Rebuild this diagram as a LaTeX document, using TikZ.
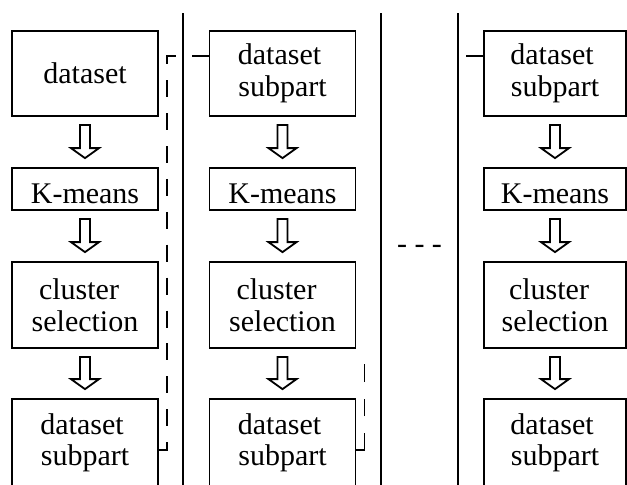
\documentclass[tikz,border=0pt]{standalone}
\usepackage{fontspec}
\newfontfamily\boxfont{Liberation Serif}
\usetikzlibrary{calc}

\tikzset{
  stage/.style={draw, line width=0.9pt, inner sep=0pt, minimum width=73pt, align=center,
    font=\boxfont\fontsize{15}{15.75}\selectfont},
  tallbox/.style={stage, minimum height=42.5pt},
  kbox/.style={stage, minimum height=21pt, text height=14pt, text depth=0pt},
  blockarrow/.style={draw, line width=0.9pt, line join=miter, fill=white},
  divider/.style={line width=0.9pt},
  feedback/.style={line width=0.9pt, dash pattern=on 8.5pt off 7.95pt},
  feedbackend/.style={line width=0.9pt, dash pattern=on 12.5pt off 8.5pt on 8.5pt off 8.5pt on 9pt off 20pt}
}

% hollow block arrow from box #1 down to box #2
\newcommand{\flowarrow}[2]{%
  \draw[blockarrow] ($(#1.south)+(-5,8)$) -- ($(#2.north)+(-5,-19)$) -- ++(-9,0)
    -- ($(#2.north)+(0,-9)$) -- ($(#2.north)+(14,-19)$) -- ++(-9,0)
    -- ($(#1.south)+(5,8)$) -- cycle;}

\begin{document}
\begin{tikzpicture}[x=0.5pt,y=-0.5pt]
\useasboundingbox (0,0) rectangle (627,484);

% first column
\node[tallbox] (d1) at (85,73.5) {dataset};
\node[kbox] (k1) at (85,189) {K-means};
\node[tallbox, minimum height=43pt] (c1) at (85,305) {cluster\kern6pt\\selection};
\node[tallbox, minimum height=44pt] (s1) at (85,443) {dataset\kern3pt\\subpart};

% second column
\node[tallbox] (d2) at (282.5,73.5) {dataset\kern3pt\\subpart};
\node[kbox] (k2) at (282.5,189) {K-means};
\node[tallbox, minimum height=43pt] (c2) at (282.5,305) {cluster\kern6pt\\selection};
\node[tallbox, minimum height=44pt] (s2) at (282.5,443) {dataset\kern3pt\\subpart};

% last column
\node[tallbox, minimum width=71pt] (d3) at (555,73.5) {dataset\kern3pt\\subpart};
\node[kbox, minimum width=71pt] (k3) at (555,189) {K-means};
\node[tallbox, minimum width=71pt, minimum height=43pt] (c3) at (555,305) {cluster\kern6pt\\selection};
\node[tallbox, minimum width=71pt, minimum height=44pt] (s3) at (555,443) {dataset\kern3pt\\subpart};

\flowarrow{d1}{k1}
\flowarrow{k1}{c1}
\flowarrow{c1}{s1}
\flowarrow{d2}{k2}
\flowarrow{k2}{c2}
\flowarrow{c2}{s2}
\flowarrow{d3}{k3}
\flowarrow{k3}{c3}
\flowarrow{c3}{s3}

% column dividers
\draw[divider] (183,13) -- (183,490);
\draw[divider] (381,13) -- (381,490);
\draw[divider] (458,13) -- (458,490);

\node[font=\boxfont\fontsize{15}{15.75}\selectfont, anchor=base, inner sep=0pt] (gap) at (419.5,253.5) {- - -};

% subpart handed on to the next column
\draw[feedback] ($(d2.north west)+(0,26)$) -| ($(s1.north east)+(8,52)$) -- ($(s1.north east)+(0,52)$);
\draw[feedbackend] ($(s2.north east)+(0,52)$) -- ++(8,0) -- ++(0,-86);
\draw[feedback] ($(d3.north west)+(0,26)$) -- ++(-17,0);
\end{tikzpicture}
\end{document}
